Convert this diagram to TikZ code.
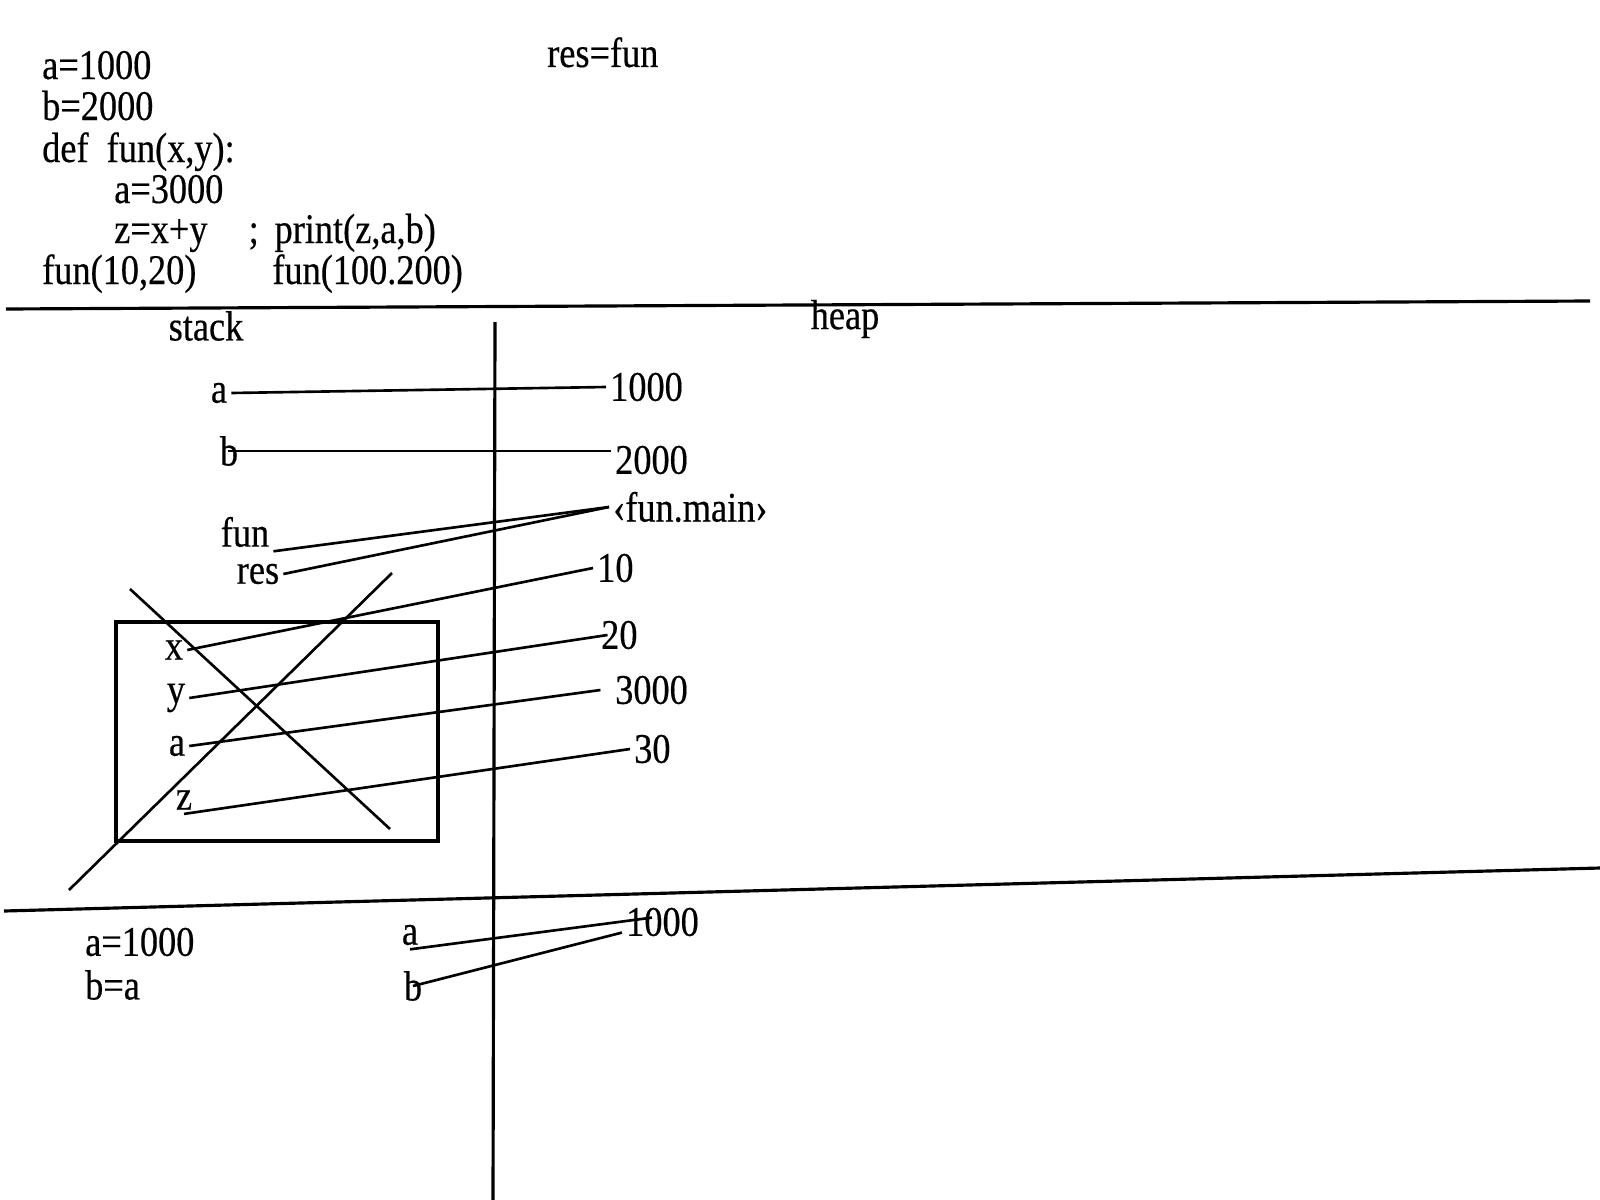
\documentclass[tikz,border=0pt]{standalone}
\usepackage{fontspec}
\setmainfont{Liberation Serif}[FakeStretch=0.86,FakeBold=0.4]
\tikzset{
  lbl/.style={inner sep=1pt, font=\fontsize{12pt}{14pt}\selectfont},
  ptr/.style={line width=0.75pt},
  sepline/.style={line width=0.9pt},
}
\begin{document}
\begin{tikzpicture}[x=0.01cm,y=-0.01cm]
  \useasboundingbox (0,0) rectangle (1600,1200);
  % the code
  \foreach \n/\x/\y/\t in {
      ca/38/79/{a=1000},
      cb/38/120/{b=2000},
      cdef/38/162/{def~~fun(x,y):},
      cbodya/110/203/{a=3000},
      cbodyz/110/243/{z=x+y\hspace{11.7pt};\hspace{4.5pt}print(z,a,b)},
      ccall/38/284/{fun(10,20)\hspace{21.6pt}fun(100.200)}}{
    \node[lbl,anchor=base west] (\n) at (\x,\y) {\t};
  }
  \node[lbl,anchor=base west] (cres) at (543,67) {res=fun};

  % stack | heap
  \draw[sepline] (6,309) -- (1590,301);
  \draw[sepline] (4,911) -- (1600,868);
  \draw[sepline] (495,322) -- (493,1200);
  \node[lbl] (stack) at (206,326) {stack};
  \node[lbl] (heap) at (845,319) {heap};

  % names on the stack
  \node[lbl] (sa) at (219,393) {a};
  \node[lbl] (sb) at (229,451) {b};
  \node[lbl] (sfun) at (245,532) {fun};
  \node[lbl] (sres) at (258,574) {res};
  \node[lbl] (fx) at (174,650) {x};
  \node[lbl] (fy) at (176,698) {y};
  \node[lbl] (fa) at (177,746) {a};
  \node[lbl] (fz) at (184,800) {z};

  % objects on the heap
  \node[lbl,anchor=west] (v1000) at (606,387) {1000};
  \node[lbl,anchor=west] (v2000) at (611,460) {2000};
  \node[lbl,anchor=west] (vfun) at (609,507) {‹fun.main›};
  \node[lbl,anchor=west] (v10) at (593,568) {10};
  \node[lbl,anchor=west] (v20) at (597,635) {20};
  \node[lbl,anchor=west] (v3000) at (611,690) {3000};
  \node[lbl,anchor=west] (v30) at (630,749) {30};

  \draw[ptr] (sa.east) -- (v1000.west);
  \draw[ptr] ([xshift=-4pt]sb.east) -- (sb.east -| v2000.west);
  \draw[ptr] (sfun.south east) -- (vfun.west);
  \draw[ptr] (sres.east) -- (vfun.west);
  \draw[ptr] (fx.east) -- (v10.west);
  \draw[ptr] (fy.east) -- ([xshift=3pt]v20.west);
  \draw[ptr] (fa.east) -- ([xshift=-3pt]v3000.west);
  \draw[ptr] (fz.south) -- (v30.west);

  % the finished call, crossed out
  \draw[sepline] (116,622) rectangle (438,841);
  \draw[ptr] (130,589) -- (390,829);
  \draw[ptr] (392,573) -- (69,890);

  % b=a
  \node[lbl,anchor=west] (ba1000) at (81,942) {a=1000};
  \node[lbl,anchor=west] (bba) at (81,985) {b=a};
  \node[lbl] (ba) at (410,935) {a};
  \node[lbl] (bb) at (413,986) {b};
  \node[lbl,anchor=west] (b1000) at (622,922) {1000};
  \draw[ptr] (ba.south) -- ([xshift=-3pt,yshift=-4pt]b1000.north);
  \draw[ptr] (bb.center) -- ([yshift=-3pt]b1000.west);
\end{tikzpicture}
\end{document}
